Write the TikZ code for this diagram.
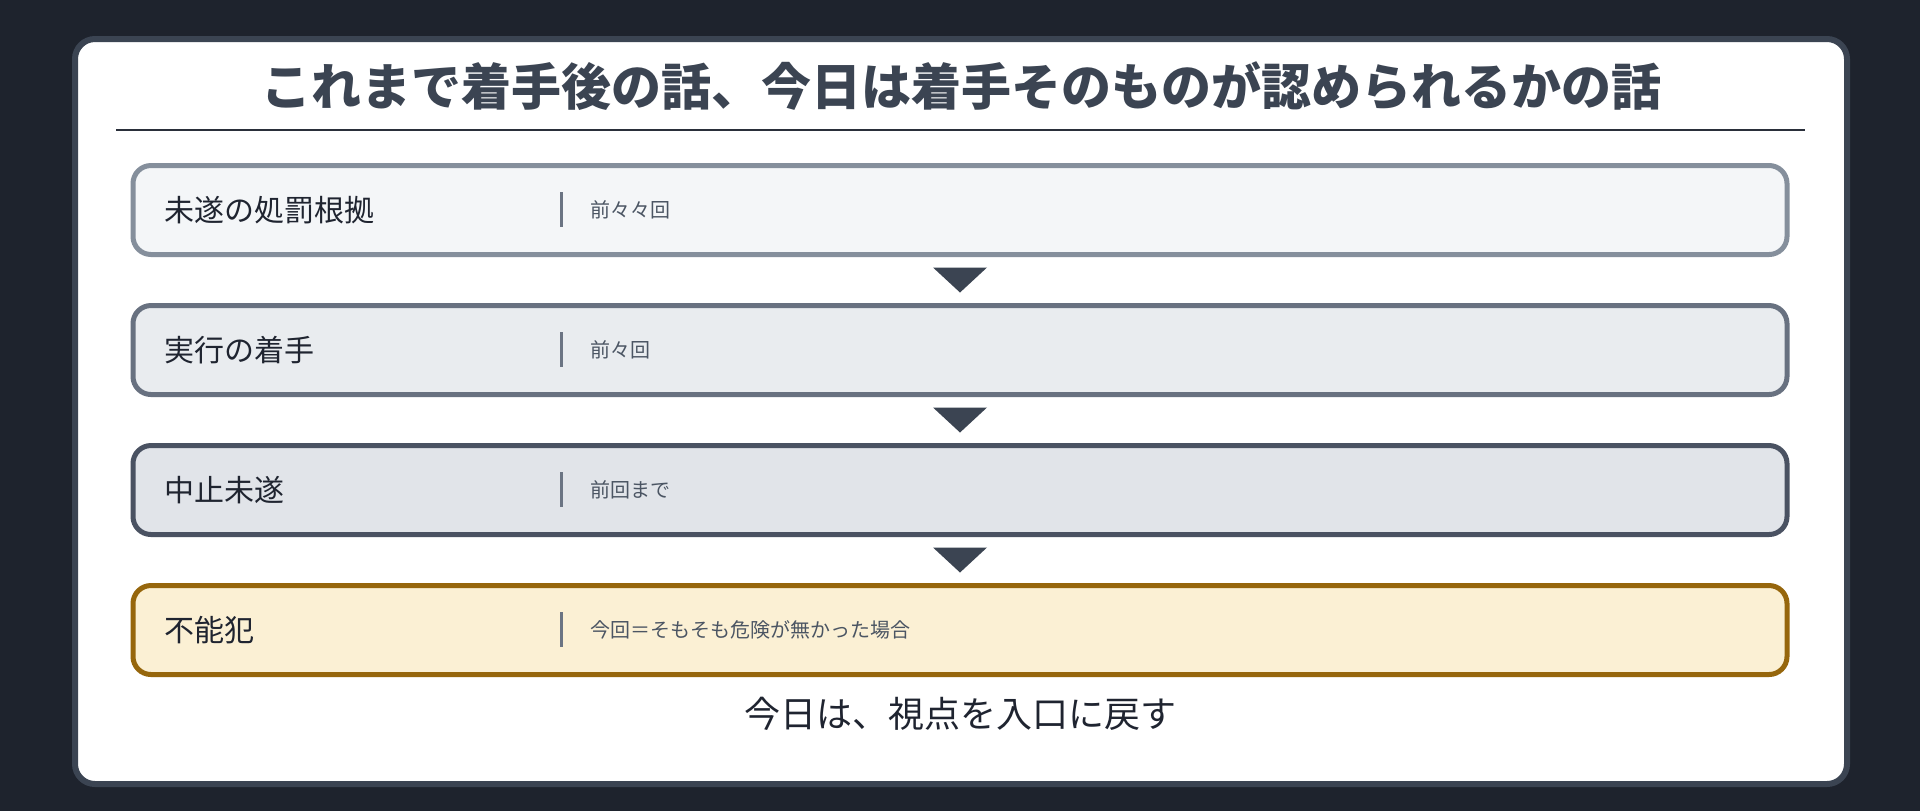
\documentclass[tikz,border=0pt]{standalone}
\usepackage{fontspec}
\setmainfont{Noto Sans CJK JP}
\usetikzlibrary{positioning}
\definecolor{pagebg}{HTML}{1E232D}
\definecolor{slate}{HTML}{3B4452}
\definecolor{rulecol}{HTML}{2A2F3A}
\definecolor{inkdark}{HTML}{1F2430}
\definecolor{inkgrey}{HTML}{4B5563}
\definecolor{barcol}{HTML}{6B7483}
\definecolor{fillA}{HTML}{F4F6F8}\definecolor{drawA}{HTML}{858F9C}
\definecolor{fillB}{HTML}{E9ECEF}\definecolor{drawB}{HTML}{687180}
\definecolor{fillC}{HTML}{E1E4E9}\definecolor{drawC}{HTML}{4A5262}
\definecolor{fillD}{HTML}{FBF0D4}\definecolor{drawD}{HTML}{96660C}
\tikzset{
  stagebox/.style={rectangle, rounded corners=9pt, line width=2.5pt,
    minimum width=827pt, minimum height=44.5pt, inner sep=0pt},
  stagename/.style={anchor=west, inner sep=0pt, text=inkdark, font=\fontsize{15pt}{18pt}\selectfont},
  stagenote/.style={anchor=west, inner sep=0pt, text=inkgrey, font=\fontsize{10pt}{12pt}\selectfont},
  bar/.style={draw=barcol, line width=1.5pt},
  downtri/.style={fill=slate},
}
\begin{document}
\begin{tikzpicture}[x=0.5pt,y=-0.5pt]
    \useasboundingbox (0,0) rectangle (1920,811);
    \fill[pagebg] (0,0) rectangle (1920,811);
    \draw[slate, fill=white, line width=3pt, rounded corners=10pt] (75,39) rectangle (1847,784);
    \node[text=slate, font=\bfseries\fontsize{25pt}{30pt}\selectfont] (title) at (961,86) {これまで着手後の話、今日は着手そのものが認められるかの話};
    \draw[rulecol, line width=1pt] (116,130) -- (1805,130);
    % stages
    \node[stagebox, fill=fillA, draw=drawA] (b1) at (960,210) {};
    \node[stagename] (n1) at (164,210) {未遂の処罰根拠};
    \draw[bar] (561,192) -- (561,227);
    \node[stagenote] (m1) at (590,210) {前々々回};
    \node[stagebox, fill=fillB, draw=drawB] (b2) at (960,350) {};
    \node[stagename] (n2) at (164,350) {実行の着手};
    \draw[bar] (561,332) -- (561,367);
    \node[stagenote] (m2) at (590,350) {前々回};
    \node[stagebox, fill=fillC, draw=drawC] (b3) at (960,490) {};
    \node[stagename] (n3) at (164,490) {中止未遂};
    \draw[bar] (561,472) -- (561,507);
    \node[stagenote] (m3) at (590,490) {前回まで};
    \node[stagebox, fill=fillD, draw=drawD] (b4) at (960,630) {};
    \node[stagename] (n4) at (164,630) {不能犯};
    \draw[bar] (561,612) -- (561,647);
    \node[stagenote] (m4) at (590,630) {今回＝そもそも危険が無かった場合};
    % arrows between stages
    \fill[downtri] ([xshift=-13.5pt,yshift=-5.25pt]b1.south) -- ([xshift=13.5pt,yshift=-5.25pt]b1.south) -- ([yshift=5.25pt]b2.north) -- cycle;
    \fill[downtri] ([xshift=-13.5pt,yshift=-5.25pt]b2.south) -- ([xshift=13.5pt,yshift=-5.25pt]b2.south) -- ([yshift=5.25pt]b3.north) -- cycle;
    \fill[downtri] ([xshift=-13.5pt,yshift=-5.25pt]b3.south) -- ([xshift=13.5pt,yshift=-5.25pt]b3.south) -- ([yshift=5.25pt]b4.north) -- cycle;
    \node[text=inkdark, font=\fontsize{18pt}{22pt}\selectfont] (closing) at (960,714) {今日は、視点を入口に戻す};
  \end{tikzpicture}
\end{document}
